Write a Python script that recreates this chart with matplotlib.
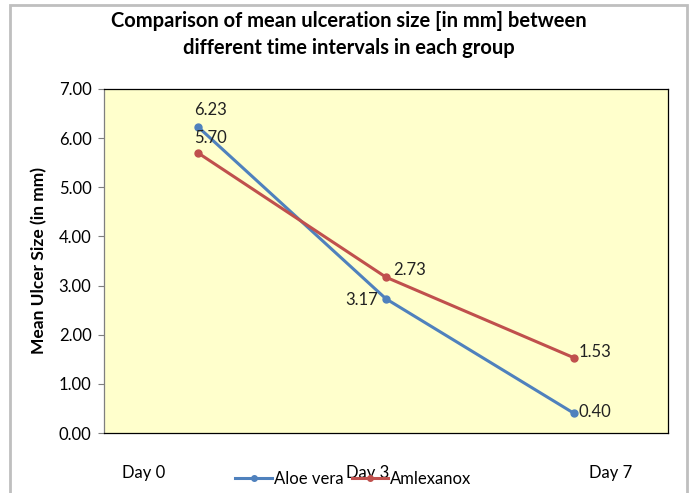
import matplotlib

matplotlib.use("Agg")
import matplotlib.pyplot as plt
from matplotlib.patches import Rectangle

days = ["Day 0", "Day 3", "Day 7"]
aloe_vera = [6.23, 2.73, 0.40]
amlexanox = [5.70, 3.17, 1.53]
# labels as printed on the original chart (Day 3 labels are swapped there)
aloe_labels = ["6.23", "3.17", "0.40"]
amlex_labels = ["5.70", "2.73", "1.53"]

BLUE = "#4F81BD"
RED = "#C0504D"

plt.rcParams["font.family"] = ["Lato", "DejaVu Sans"]

fig = plt.figure(figsize=(6.93, 4.93), dpi=100)
ax = fig.add_axes([0.150, 0.1217, 0.814, 0.6978])
ax.set_facecolor("#FFFFCC")

x = list(range(len(days)))
ax.plot(x, aloe_vera, color=BLUE, linewidth=2.2, marker="o", markersize=5, label="Aloe vera")
ax.plot(x, amlexanox, color=RED, linewidth=2.2, marker="o", markersize=5, label="Amlexanox")

# data labels
text_kw = dict(fontsize=12, color="#222222", textcoords="offset points")
ax.annotate(aloe_labels[0], (x[0], aloe_vera[0]), xytext=(-3, 12), ha="left", va="center", **text_kw)
ax.annotate(amlex_labels[0], (x[0], amlexanox[0]), xytext=(-3, 11), ha="left", va="center", **text_kw)
ax.annotate(aloe_labels[1], (x[1], aloe_vera[1]), xytext=(-6, -1), ha="right", va="center", **text_kw)
ax.annotate(amlex_labels[1], (x[1], amlexanox[1]), xytext=(5, 5), ha="left", va="center", **text_kw)
ax.annotate(aloe_labels[2], (x[2], aloe_vera[2]), xytext=(3, 1), ha="left", va="center", **text_kw)
ax.annotate(amlex_labels[2], (x[2], amlexanox[2]), xytext=(3, 4), ha="left", va="center", **text_kw)

ax.set_xlim(-0.5, 2.5)
ax.set_ylim(0, 7)
ax.set_yticks([0, 1, 2, 3, 4, 5, 6, 7])
ax.set_yticklabels([f"{v:.2f}" for v in range(8)])
ax.tick_params(axis="y", length=4, width=0.8, color="#7f7f7f", labelsize=12, pad=5)

# category labels sit off the point positions in the original
ax.set_xticks([-0.287, 0.904, 2.197])
ax.set_xticklabels(days)
ax.tick_params(axis="x", length=0, labelsize=12, pad=23)

for side in ["top", "right", "bottom"]:
    ax.spines[side].set_color("#000000")
    ax.spines[side].set_linewidth(0.9)
ax.spines["left"].set_color("#7f7f7f")
ax.spines["left"].set_linewidth(0.9)

ax.set_ylabel("Mean Ulcer Size (in mm)", fontsize=12.5, fontweight="bold", labelpad=8)

fig.text(0.503, 0.93, "Comparison of mean ulceration size [in mm] between\ndifferent time intervals in each group",
         ha="center", va="center", fontsize=14.5, fontweight="bold", linespacing=1.4)

fig.legend(loc="center", bbox_to_anchor=(0.51, 0.028), ncol=2, frameon=False, fontsize=12,
           handlelength=2.2, handletextpad=0.1, columnspacing=0.5, markerscale=0.8)

fig.patches.append(Rectangle((10 / 693, -0.05), 677 / 693, 1.04, transform=fig.transFigure,
                             fill=False, edgecolor="#BFBFBF", linewidth=2))

fig.savefig("out.png", dpi=100)
